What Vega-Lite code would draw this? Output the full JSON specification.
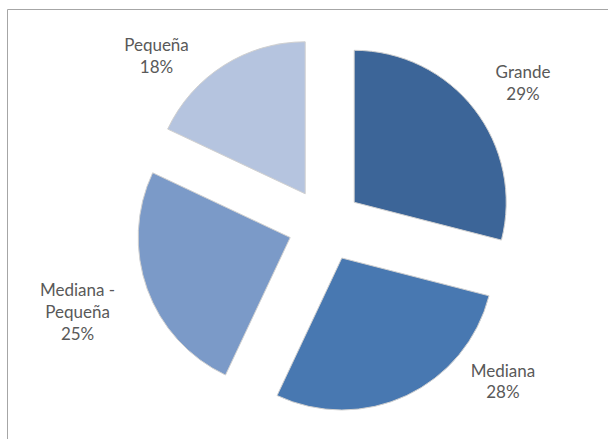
{
  "$schema": "https://vega.github.io/schema/vega-lite/v6.json",
  "width": 601,
  "height": 430,
  "autosize": {"type": "none"},
  "padding": {"left": 7, "top": 9, "right": 0, "bottom": 0},
  "background": "white",
  "view": {"stroke": "#a6a6a6", "strokeWidth": 1},
  "data": {
    "values": [
      {"categoria": "Grande", "porcentaje": 29, "etiqueta": "Grande\n29%"},
      {"categoria": "Mediana", "porcentaje": 28, "etiqueta": "Mediana\n28%"},
      {"categoria": "Mediana - Pequeña", "porcentaje": 25, "etiqueta": "Mediana -\nPequeña\n25%"},
      {"categoria": "Pequeña", "porcentaje": 18, "etiqueta": "Pequeña\n18%"}
    ]
  },
  "encoding": {
    "theta": {"field": "porcentaje", "type": "quantitative", "stack": true},
    "order": {"field": "porcentaje", "type": "quantitative", "sort": "descending"}
  },
  "layer": [
    {
      "mark": {"type": "arc", "radius": 152, "xOffset": 46.7, "yOffset": -21.7, "stroke": "#d0d0d0", "strokeWidth": 1},
      "encoding": {
        "color": {"field": "categoria", "type": "nominal", "legend": null,
          "scale": {"domain": ["Grande", "Mediana", "Mediana - Pequeña", "Pequeña"], "range": ["#3c6598", "#4878b1", "#7b9ac8", "#b5c4df"]}},
        "opacity": {"condition": {"test": "datum.categoria === 'Grande'", "value": 1}, "value": 0}
      }
    },
    {
      "mark": {"type": "arc", "radius": 152, "xOffset": 34.3, "yOffset": 34.0, "stroke": "#d0d0d0", "strokeWidth": 1},
      "encoding": {
        "color": {"field": "categoria", "type": "nominal", "legend": null,
          "scale": {"domain": ["Grande", "Mediana", "Mediana - Pequeña", "Pequeña"], "range": ["#3c6598", "#4878b1", "#7b9ac8", "#b5c4df"]}},
        "opacity": {"condition": {"test": "datum.categoria === 'Mediana'", "value": 1}, "value": 0}
      }
    },
    {
      "mark": {"type": "arc", "radius": 152, "xOffset": -17.3, "yOffset": 13.5, "stroke": "#d0d0d0", "strokeWidth": 1},
      "encoding": {
        "color": {"field": "categoria", "type": "nominal", "legend": null,
          "scale": {"domain": ["Grande", "Mediana", "Mediana - Pequeña", "Pequeña"], "range": ["#3c6598", "#4878b1", "#7b9ac8", "#b5c4df"]}},
        "opacity": {"condition": {"test": "datum.categoria === 'Mediana - Pequeña'", "value": 1}, "value": 0}
      }
    },
    {
      "mark": {"type": "arc", "radius": 152, "xOffset": -2.3, "yOffset": -30.2, "stroke": "#d0d0d0", "strokeWidth": 1},
      "encoding": {
        "color": {"field": "categoria", "type": "nominal", "legend": null,
          "scale": {"domain": ["Grande", "Mediana", "Mediana - Pequeña", "Pequeña"], "range": ["#3c6598", "#4878b1", "#7b9ac8", "#b5c4df"]}},
        "opacity": {"condition": {"test": "datum.categoria === 'Pequeña'", "value": 1}, "value": 0}
      }
    },
    {
      "mark": {"type": "text", "radius": 243, "xOffset": 17.5, "yOffset": 1, "dx": 6, "dy": -3, "font": "Lato", "fontSize": 17, "lineHeight": 22, "lineBreak": "\n", "align": "center", "baseline": "middle", "color": "#595959"},
      "encoding": {
        "text": {"condition": {"test": "datum.categoria === 'Grande'", "field": "etiqueta"}, "value": ""}
      }
    },
    {
      "mark": {"type": "text", "radius": 237, "xOffset": 17.5, "yOffset": 1, "dx": 77, "dy": -67, "font": "Lato", "fontSize": 17, "lineHeight": 21, "lineBreak": "\n", "align": "center", "baseline": "middle", "color": "#595959"},
      "encoding": {
        "text": {"condition": {"test": "datum.categoria === 'Mediana'", "field": "etiqueta"}, "value": ""}
      }
    },
    {
      "mark": {"type": "text", "radius": 263, "xOffset": 17.5, "yOffset": 1, "dx": 0, "dy": -23, "font": "Lato", "fontSize": 17, "lineHeight": 22, "lineBreak": "\n", "align": "center", "baseline": "middle", "color": "#595959"},
      "encoding": {
        "text": {"condition": {"test": "datum.categoria === 'Mediana - Pequeña'", "field": "etiqueta"}, "value": ""}
      }
    },
    {
      "mark": {"type": "text", "radius": 238, "xOffset": 17.5, "yOffset": 1, "dx": -41, "dy": 22, "font": "Lato", "fontSize": 17, "lineHeight": 22, "lineBreak": "\n", "align": "center", "baseline": "middle", "color": "#595959"},
      "encoding": {
        "text": {"condition": {"test": "datum.categoria === 'Pequeña'", "field": "etiqueta"}, "value": ""}
      }
    }
  ]
}
